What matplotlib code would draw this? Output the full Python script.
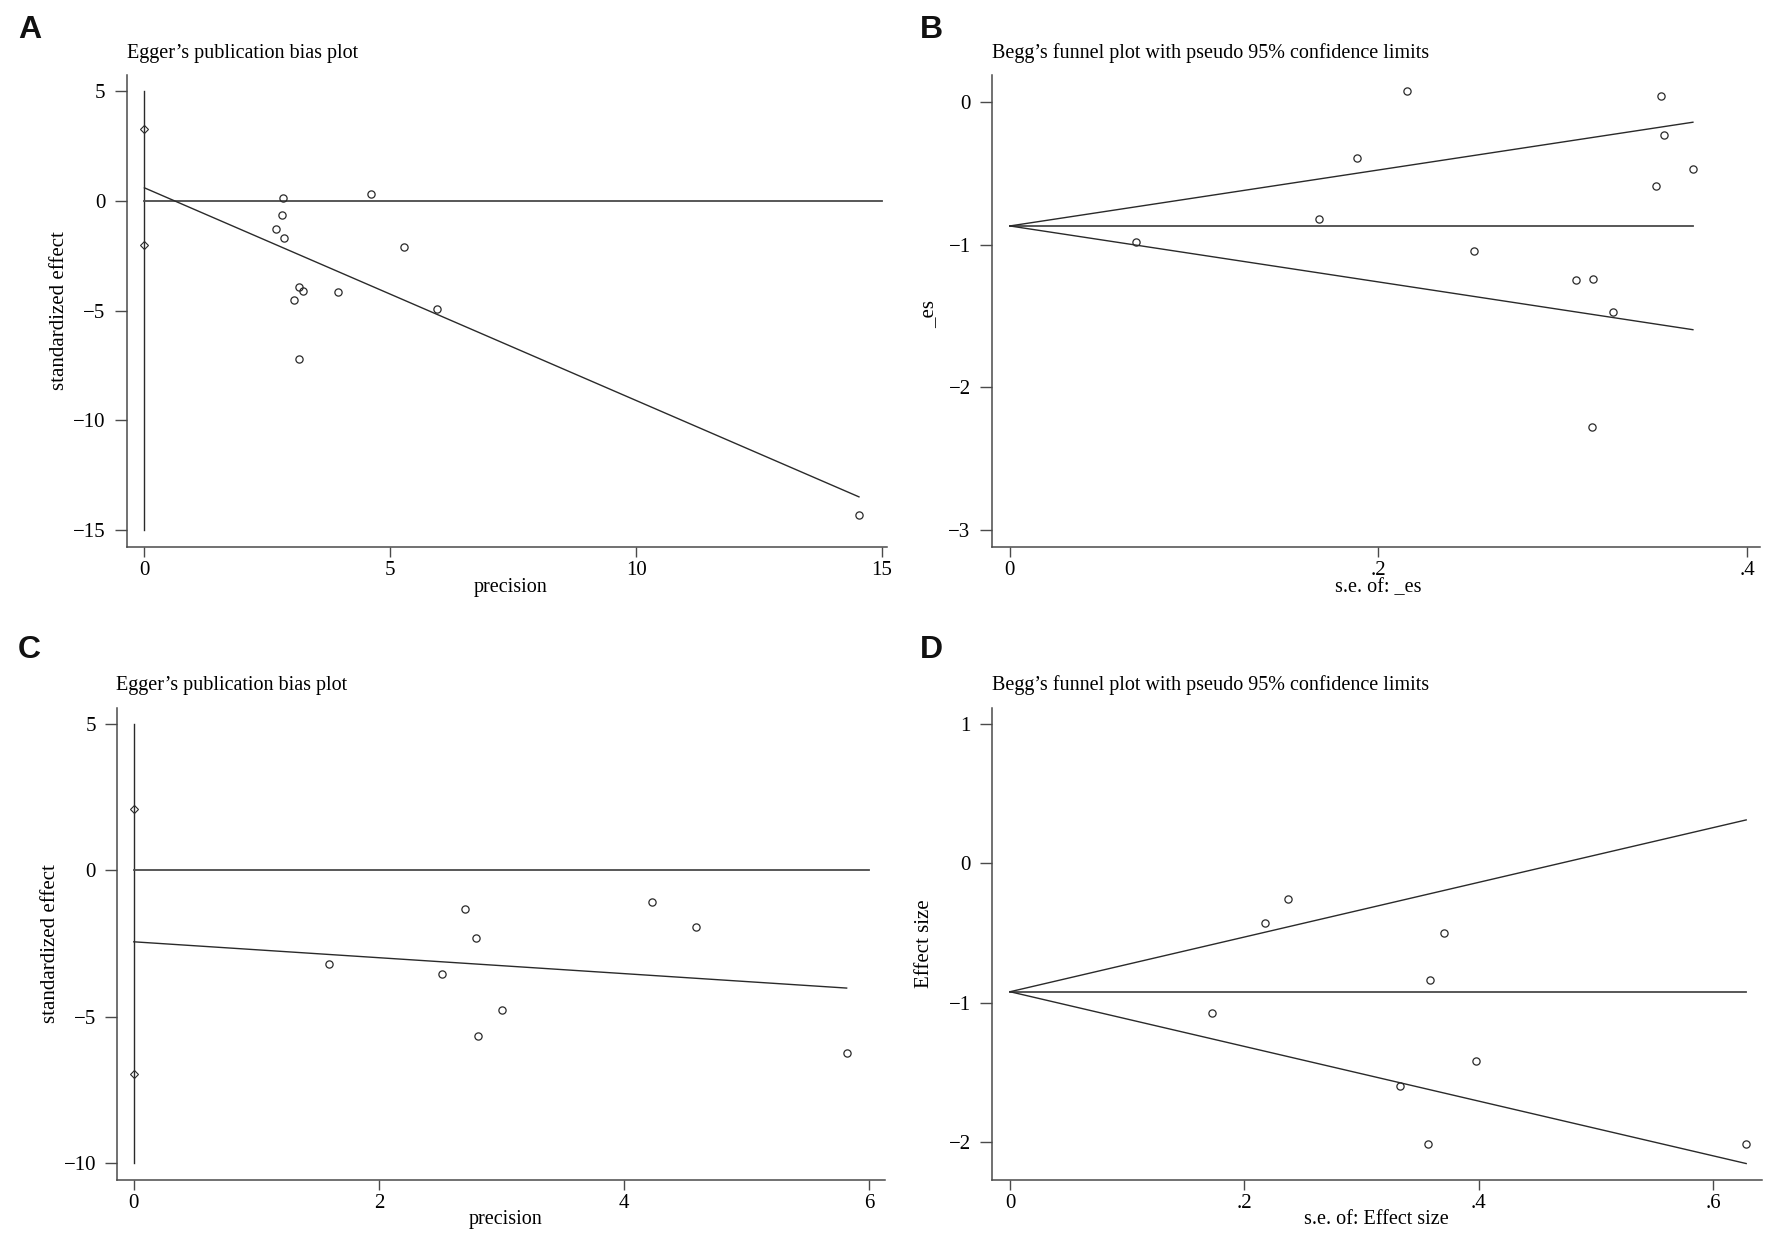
import matplotlib
matplotlib.use("Agg")
import matplotlib.pyplot as plt
import numpy as np

# ---------------- data ----------------
# Panel A: Egger's plot
A_precision = [2.81, 2.80, 2.68, 2.84, 4.61, 5.28, 5.94, 3.14, 3.23, 3.04, 3.94, 3.15, 14.53]
A_effect = [0.11, -0.65, -1.28, -1.70, 0.33, -2.11, -4.91, -3.94, -4.09, -4.50, -4.15, -7.23, -14.31]
A_intercept = 0.59
A_slope = -0.969
A_ci = [3.25, -2.00]
A_xticks = [0, 5, 10, 15]
A_yticks = [5, 0, -5, -10, -15]

# Panel B: Begg's funnel
B_se = [0.2155, 0.3534, 0.3550, 0.3706, 0.3505, 0.1884, 0.1678, 0.0685, 0.2518, 0.3072, 0.3165, 0.3270, 0.3157]
B_es = [0.075, 0.042, -0.236, -0.474, -0.593, -0.394, -0.819, -0.982, -1.046, -1.251, -1.239, -1.473, -2.280]
B_pooled = -0.870
B_xticks = [0, 0.2, 0.4]
B_xticklabels = ["0", ".2", ".4"]
B_yticks = [0, -1, -2, -3]

# Panel C: Egger's plot
C_precision = [1.59, 2.515, 2.70, 2.795, 3.006, 2.807, 4.227, 4.588, 5.817]
C_effect = [-3.20, -3.55, -1.33, -2.32, -4.78, -5.64, -1.07, -1.95, -6.25]
C_intercept = -2.44
C_slope = -0.2715
C_ci = [2.09, -6.95]
C_xticks = [0, 2, 4, 6]
C_yticks = [5, 0, -5, -10]

# Panel D: Begg's funnel
D_se = [0.237, 0.2179, 0.3706, 0.3579, 0.1719, 0.3979, 0.3328, 0.3566, 0.6281]
D_es = [-0.253, -0.425, -0.497, -0.836, -1.075, -1.416, -1.595, -2.013, -2.011]
D_pooled = -0.920
D_xticks = [0, 0.2, 0.4, 0.6]
D_xticklabels = ["0", ".2", ".4", ".6"]
D_yticks = [1, 0, -1, -2]

# ---------------- figure ----------------
W, H = 1772, 1238
fig = plt.figure(figsize=(W / 100, H / 100), dpi=100)
fig.patch.set_facecolor("white")

SERIF = "Liberation Serif"
SANS = "Liberation Sans"
LC = "#2a2a2a"
SC = "#4a4a4a"
FS = 14.5
TFS = 15


def add_ax(l, t, r, b):
    return fig.add_axes([l / W, 1 - b / H, (r - l) / W, (b - t) / H])


def style(ax, xlim, ylim, xticks, xlabels, yticks):
    ax.set_xlim(*xlim)
    ax.set_ylim(*ylim)
    for s in ["top", "right"]:
        ax.spines[s].set_visible(False)
    for s in ["left", "bottom"]:
        ax.spines[s].set_color(SC)
        ax.spines[s].set_linewidth(1.1)
    ax.set_xticks(xticks)
    ax.set_xticklabels(xlabels, fontfamily=SERIF, fontsize=TFS)
    ax.set_yticks(yticks)
    ax.set_yticklabels([str(v).replace("-", "\u2212") for v in yticks],
                       fontfamily=SERIF, fontsize=TFS)
    ax.tick_params(axis="x", direction="out", length=7.5, width=1.0, color=SC, pad=2.5)
    ax.tick_params(axis="y", direction="out", length=8.4, width=1.0, color=SC, pad=7)
    ax.set_facecolor("white")


def circles(ax, x, y):
    ax.plot(x, y, linestyle="none", marker="o", markersize=5.2,
            markerfacecolor="none", markeredgecolor=LC, markeredgewidth=0.9, zorder=3)


def fig_text(x, y, s, **kw):
    fig.text(x / W, 1 - y / H, s, **kw)


# ---- Panel A ----
axA = add_ax(126.7, 75, 887, 546.7)
style(axA, (-0.36, 15.1), (-15.76, 5.73), A_xticks, [str(v) for v in A_xticks], A_yticks)
axA.plot([0, 0], [A_yticks[0], A_yticks[-1]], color=LC, lw=1.0)
axA.plot([0, A_xticks[-1]], [0, 0], color=SC, lw=1.3)
xa = np.array([0, max(A_precision)])
axA.plot(xa, A_intercept + A_slope * xa, color=LC, lw=1.0)
axA.plot([0, 0], A_ci, linestyle="none", marker="D", markersize=3.6,
         markerfacecolor="none", markeredgecolor=LC, markeredgewidth=0.8, zorder=3)
circles(axA, A_precision, A_effect)

# ---- Panel B ----
axB = add_ax(992, 75, 1760, 547)
style(axB, (-0.0097, 0.407), (-3.118, 0.187), B_xticks, B_xticklabels, B_yticks)
smaxB = max(B_se)
axB.plot([0, smaxB], [B_pooled, B_pooled], color=SC, lw=1.3)
axB.plot([0, smaxB], [B_pooled, B_pooled + 1.96 * smaxB], color=LC, lw=1.0)
axB.plot([0, smaxB], [B_pooled, B_pooled - 1.96 * smaxB], color=LC, lw=1.0)
circles(axB, B_se, B_es)

# ---- Panel C ----
axC = add_ax(117.4, 708, 885, 1180)
style(axC, (-0.134, 6.13), (-10.57, 5.54), C_xticks, [str(v) for v in C_xticks], C_yticks)
axC.plot([0, 0], [C_yticks[0], C_yticks[-1]], color=LC, lw=1.0)
axC.plot([0, C_xticks[-1]], [0, 0], color=SC, lw=1.3)
xc = np.array([0, max(C_precision)])
axC.plot(xc, C_intercept + C_slope * xc, color=LC, lw=1.0)
axC.plot([0, 0], C_ci, linestyle="none", marker="D", markersize=3.6,
         markerfacecolor="none", markeredgecolor=LC, markeredgewidth=0.8, zorder=3)
circles(axC, C_precision, C_effect)

# ---- Panel D ----
axD = add_ax(992, 708, 1762, 1180)
style(axD, (-0.0154, 0.6416), (-2.269, 1.113), D_xticks, D_xticklabels, D_yticks)
smaxD = max(D_se)
axD.plot([0, smaxD], [D_pooled, D_pooled], color=SC, lw=1.3)
axD.plot([0, smaxD], [D_pooled, D_pooled + 1.96 * smaxD], color=LC, lw=1.0)
axD.plot([0, smaxD], [D_pooled, D_pooled - 1.96 * smaxD], color=LC, lw=1.0)
circles(axD, D_se, D_es)

# ---- texts ----
for (x, y, s) in [(18, 38, "A"), (920, 38, "B"), (18, 658, "C"), (920, 658, "D")]:
    fig_text(x, y, s, fontfamily=SANS, fontweight="bold", fontsize=23,
             ha="left", va="baseline", color="#111111")

title_egger = "Egger\u2019s publication bias plot"
title_begg = "Begg\u2019s funnel plot with pseudo 95% confidence limits"
fig_text(126.5, 58, title_egger, fontfamily=SERIF, fontsize=FS, ha="left", va="baseline")
fig_text(992, 58, title_begg, fontfamily=SERIF, fontsize=FS, ha="left", va="baseline")
fig_text(116, 690, title_egger, fontfamily=SERIF, fontsize=FS, ha="left", va="baseline")
fig_text(992, 690, title_begg, fontfamily=SERIF, fontsize=FS, ha="left", va="baseline")

fig_text(511, 592, "precision", fontfamily=SERIF, fontsize=FS, ha="center", va="baseline")
fig_text(1378, 592, "s.e. of: _es", fontfamily=SERIF, fontsize=FS, ha="center", va="baseline")
fig_text(506, 1224, "precision", fontfamily=SERIF, fontsize=FS, ha="center", va="baseline")
fig_text(1376, 1224, "s.e. of: Effect size", fontfamily=SERIF, fontsize=FS, ha="center", va="baseline")

fig_text(60, 311, "standardized effect", fontfamily=SERIF, fontsize=15, rotation=90,
         ha="center", va="center")
fig_text(929, 314, "_es", fontfamily=SERIF, fontsize=15, rotation=90, ha="center", va="center")
fig_text(51, 944, "standardized effect", fontfamily=SERIF, fontsize=15, rotation=90,
         ha="center", va="center")
fig_text(925, 944, "Effect size", fontfamily=SERIF, fontsize=15, rotation=90,
         ha="center", va="center")

fig.savefig("out.png", dpi=100, facecolor="white")
